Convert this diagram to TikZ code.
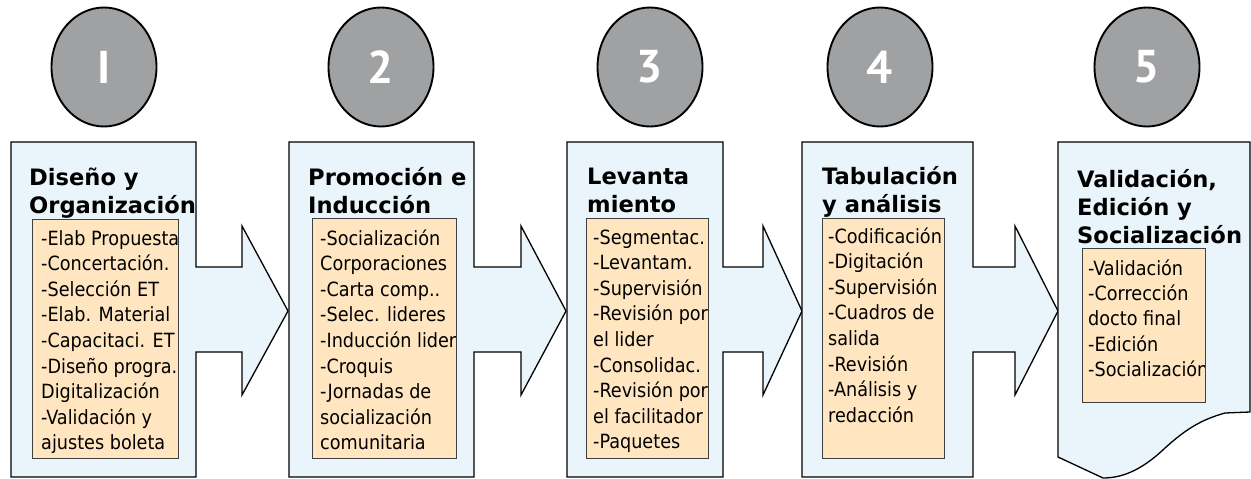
\documentclass[tikz,border=0pt]{standalone}
\usepackage{fontspec}
\usetikzlibrary{shapes.geometric}
\newfontfamily\bodyfont{DejaVu Sans Condensed}
\newfontfamily\titlefont{DejaVu Sans}[BoldFont={DejaVu Sans Bold}]
\newfontfamily\numfont{PT Sans}
\definecolor{panelfill}{RGB}{234,244,251}
\definecolor{boxfill}{RGB}{255,230,193}
\definecolor{circfill}{RGB}{160,161,163}
\newcommand{\bodylines}[2][25.6]{\vtop{\hsize=300pt\parindent=0pt\parskip=0pt\rightskip=0pt plus 1fil\bodyfont\fontsize{19.6}{#1}\selectfont #2\par}}
\newcommand{\titlelines}[1]{\vtop{\hsize=300pt\parindent=0pt\parskip=0pt\rightskip=0pt plus 1fil\titlefont\bfseries\fontsize{22.6}{28}\selectfont #1\par}}
\tikzset{
  panel/.style={draw=black, line width=1.3pt, fill=panelfill, line join=miter},
  itembox/.style={draw=black!75, line width=0.9pt, fill=boxfill},
  stepcircle/.style={ellipse, draw=black, line width=1.9pt, fill=circfill, minimum width=105pt, minimum height=119pt, inner sep=0pt, text=white, font=\numfont\bfseries\fontsize{46}{50}\selectfont},
  bodytext/.style={anchor=base west, inner sep=0pt},
  titletext/.style={anchor=base west, inner sep=0pt}
}
\begin{document}
\begin{tikzpicture}[x=1pt, y=-1pt]
\useasboundingbox (0,0) rectangle (1251,479);
\fill[white] (0,0) rectangle (1251,479);

% panels with arrows
\draw[panel] (11,142) -- (196,142) -- (196,267) -- (242,267) -- (242,226) -- (288,311) -- (242,395) -- (242,352) -- (196,352) -- (196,477) -- (11,477) -- cycle;
\draw[panel] (289,142) -- (474,142) -- (474,267) -- (521,267) -- (521,226) -- (566,311) -- (521,395) -- (521,352) -- (474,352) -- (474,477) -- (289,477) -- cycle;
\draw[panel] (567,142) -- (723,142) -- (723,267) -- (763,267) -- (763,226) -- (802,311) -- (763,395) -- (763,352) -- (723,352) -- (723,477) -- (567,477) -- cycle;
\draw[panel] (802,142) -- (973,142) -- (973,267) -- (1015,267) -- (1015,226) -- (1058,311) -- (1015,395) -- (1015,352) -- (973,352) -- (973,477) -- (802,477) -- cycle;
\draw[panel] (1058,142) -- (1250,142) -- (1250,412) -- (1225,413) .. controls (1200,420) and (1185,430) .. (1165,448) .. controls (1140,472) and (1120,478) .. (1103,478) -- (1058,457) -- cycle;

% circles
\node[stepcircle] (c1) at (104,67) {I};
\node[stepcircle] (c2) at (381,67) {2};
\node[stepcircle] (c3) at (650,67) {3};
\node[stepcircle] (c4) at (880,67) {4};
\node[stepcircle] (c5) at (1147,67) {5};

% item boxes
\draw[itembox] (32,219) rectangle (178,458);
\draw[itembox] (312,218) rectangle (456,458);
\draw[itembox] (586,218) rectangle (708,458);
\draw[itembox] (822,218) rectangle (944,458);
\draw[itembox] (1082,248) rectangle (1205,402);

% titles
\node[titletext] (t1) at (29,185) {\titlelines{Diseño y\\Organización}};
\node[titletext] (t2) at (308,185) {\titlelines{Promoción e\\Inducción}};
\node[titletext] (t3) at (587,184) {\titlelines{Levanta\\miento}};
\node[titletext] (t4) at (822,184) {\titlelines{Tabulación\\y análisis}};
\node[titletext] (t5) at (1077,187) {\titlelines{Validación,\\Edición y\\Socialización}};

% items (clipped to their boxes)
\begin{scope}
\clip (32,219) rectangle (178,458);
\node[bodytext] (i1) at (41,245) {\bodylines{-Elab Propuesta\\-Concertación.\\-Selección ET\\-Elab. Material\\-Capacitaci. ET\\-Diseño progra.\\Digitalización\\-Validación y\\ajustes boleta}};
\end{scope}
\begin{scope}
\clip (312,218) rectangle (456,458);
\node[bodytext] (i2) at (320,245) {\bodylines{-Socialización\\Corporaciones\\-Carta comp..\\-Selec. lideres\\-Inducción lider\\-Croquis\\-Jornadas de\\socialización\\comunitaria}};
\end{scope}
\begin{scope}
\clip (586,218) rectangle (708,458);
\node[bodytext] (i3) at (593,244) {\bodylines{-Segmentac.\\-Levantam.\\-Supervisión\\-Revisión por\\el lider\\-Consolidac.\\-Revisión por\\el facilitador\\-Paquetes}};
\end{scope}
\begin{scope}
\clip (822,218) rectangle (944,458);
\node[bodytext] (i4) at (828,243) {\bodylines{-Codificación\\-Digitación\\-Supervisión\\-Cuadros de\\salida\\-Revisión\\-Análisis y\\redacción}};
\end{scope}
\begin{scope}
\clip (1082,248) rectangle (1205,402);
\node[bodytext] (i5) at (1088,275) {\bodylines[25.4]{-Validación\\-Corrección\\docto final\\-Edición\\-Socialización}};
\end{scope}
% redraw box outlines above the clipped text
\draw[draw=black!75, line width=0.9pt] (32,219) rectangle (178,458);
\draw[draw=black!75, line width=0.9pt] (312,218) rectangle (456,458);
\draw[draw=black!75, line width=0.9pt] (586,218) rectangle (708,458);
\draw[draw=black!75, line width=0.9pt] (822,218) rectangle (944,458);
\draw[draw=black!75, line width=0.9pt] (1082,248) rectangle (1205,402);
\end{tikzpicture}
\end{document}
